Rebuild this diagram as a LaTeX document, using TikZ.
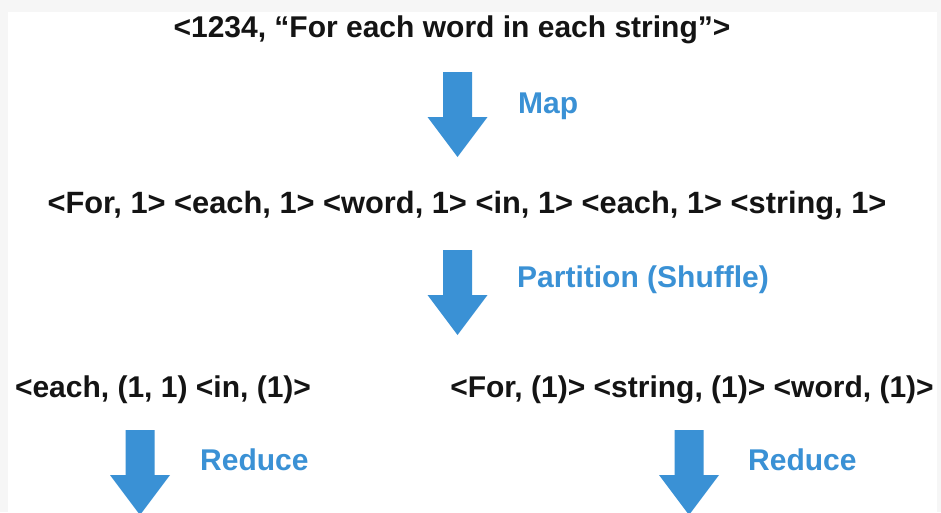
\documentclass[tikz,border=0pt]{standalone}
\usepackage{fontspec}
\setmainfont{Liberation Sans}
\definecolor{mrblue}{HTML}{3A91D5}
\definecolor{pane}{HTML}{F6F6F6}
\begin{document}
\begin{tikzpicture}[x=1pt, y=-1pt, font=\fontsize{30}{36}\selectfont\bfseries,
	txt/.style={inner sep=0pt, anchor=base, text=black!92},
	lbl/.style={inner sep=0pt, anchor=base west, text=mrblue},
	downarrow/.pic={\fill[mrblue] (-14.5,0)--(14.5,0)--(14.5,45)--(30,45)--(0,85)--(-30,45)--(-14.5,45)--cycle;}]
	\fill[pane] (0,0) rectangle (941,512);
	\fill[white] (8,12) rectangle (937,512);
	\useasboundingbox (0,0) rectangle (941,512);
	% records
	\node[txt] (input) at (452,37) {<1234, “For each word in each string”>};
	\node[txt, font=\fontsize{30.8}{36}\selectfont\bfseries] (pairs) at (467,213) {<For, 1> <each, 1> <word, 1> <in, 1> <each, 1> <string, 1>};
	\node[txt] (groupa) at (163,397) {<each, (1, 1) <in, (1)>};
	\node[txt] (groupb) at (692,397) {<For, (1)> <string, (1)> <word, (1)>};
	% steps
	\pic (maparrow) at (457.5,72) {downarrow};
	\pic (shufflearrow) at (457.5,250) {downarrow};
	\pic (reducea) at (140,430) {downarrow};
	\pic (reduceb) at (689,430) {downarrow};
	\node[lbl] (map) at (518,113) {Map};
	\node[lbl] (shuffle) at (517,287) {Partition (Shuffle)};
	\node[lbl] (reducetxta) at (200,470) {Reduce};
	\node[lbl] (reducetxtb) at (748,470) {Reduce};
\end{tikzpicture}
\end{document}
